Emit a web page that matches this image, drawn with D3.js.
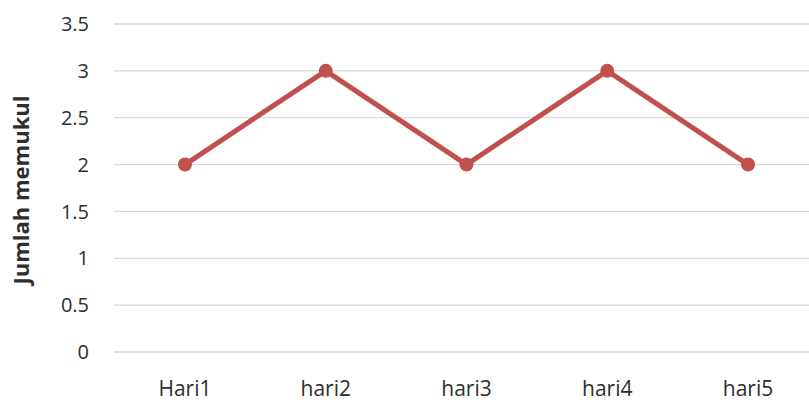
<!DOCTYPE html>
<html>
<head>
<meta charset="utf-8">
<script src="https://cdn.jsdelivr.net/npm/d3@7"></script>
<style>
  body { margin: 0; background: #fff; }
  text { font-family: "Open Sans", "Noto Sans", sans-serif; fill: #2e2e2e; }
</style>
</head>
<body>
<svg width="809" height="403"></svg>
<script>
// data
const days = ["Hari1", "hari2", "hari3", "hari4", "hari5"];
const hits = [2, 3, 2, 3, 2];
const yTicks = [0, 0.5, 1, 1.5, 2, 2.5, 3, 3.5];

var svg = d3.select("svg");

// scales
var x = d3.scalePoint()
    .domain(days)
    .range([114.6, 818.4])
    .padding(0.5);

var y = d3.scaleLinear()
    .domain([0, 3.5])
    .range([352, 24]);

// gridlines
svg.append("g")
    .selectAll("line")
    .data(yTicks)
    .enter().append("line")
    .attr("x1", 114)
    .attr("x2", 809)
    .attr("y1", d => y(d))
    .attr("y2", d => y(d))
    .attr("stroke", "#d9d9d9")
    .attr("stroke-width", 1.3);

// y tick labels
svg.append("g")
    .selectAll("text")
    .data(yTicks)
    .enter().append("text")
    .attr("x", 89)
    .attr("y", d => y(d))
    .attr("dy", "0.36em")
    .attr("text-anchor", "end")
    .style("font-size", "20px")
    .text(d => d);

// x labels
svg.append("g")
    .selectAll("text")
    .data(days)
    .enter().append("text")
    .attr("x", d => x(d))
    .attr("y", 396)
    .attr("text-anchor", "middle")
    .style("font-size", "21px")
    .text(d => d);

// axis title
svg.append("text")
    .attr("transform", "translate(29,190) rotate(-90)")
    .attr("text-anchor", "middle")
    .style("font-size", "22px")
    .style("font-weight", "bold")
    .text("Jumlah memukul");

// the line
var line = d3.line()
    .x((d, i) => x(days[i]))
    .y(d => y(d));

svg.append("path")
    .datum(hits)
    .attr("fill", "none")
    .attr("stroke", "#c0504d")
    .attr("stroke-width", 5)
    .attr("stroke-linejoin", "round")
    .attr("d", line);

svg.append("g")
    .selectAll("circle")
    .data(hits)
    .enter().append("circle")
    .attr("cx", (d, i) => x(days[i]))
    .attr("cy", d => y(d))
    .attr("r", 7)
    .attr("fill", "#c0504d");
</script>
</body>
</html>
